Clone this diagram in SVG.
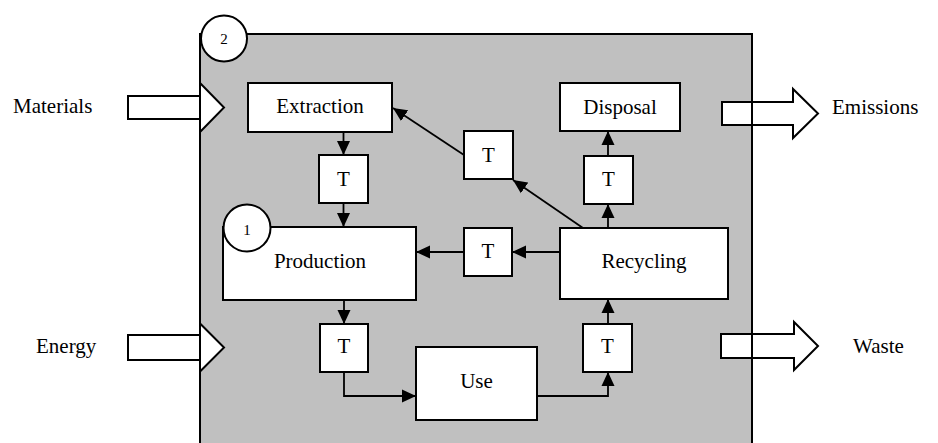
<svg xmlns="http://www.w3.org/2000/svg" width="938" height="443" viewBox="0 0 938 443" font-family="'Liberation Serif', 'DejaVu Serif', serif">
<defs>
<marker id="ah" markerUnits="userSpaceOnUse" markerWidth="14" markerHeight="14" refX="14" refY="7" orient="auto">
<path d="M0,0.5 L14,7 L0,13.5 z" fill="#000"/>
</marker>
<style>
text{font-family:'Liberation Serif','DejaVu Serif','Times New Roman',serif;font-size:21px;fill:#000;text-anchor:middle}
.lbl{text-anchor:start}
.small{font-size:15px}
.box{fill:#fff;stroke:#000;stroke-width:2}
.big{fill:#fff;stroke:#000;stroke-width:2;stroke-linejoin:miter}
.con{fill:none;stroke:#000;stroke-width:1.8;marker-end:url(#ah)}
</style>
</defs>
<rect width="938" height="443" fill="#fff"/>
<g id="system">
<rect x="200" y="34" width="552" height="420" fill="#c0c0c0"/>
</g>
<g id="materials">
<polygon class="big" points="128,96 200,96 200,83 224,107.5 200,132 200,119 128,119"/>
<text class="lbl" x="13" y="113">Materials</text>
</g>
<g id="energy">
<polygon class="big" points="128,335 200,335 200,323.5 224,347.5 200,371.5 200,360 128,360"/>
<text class="lbl" x="36" y="353">Energy</text>
</g>
<g id="emissions">
<polygon class="big" points="722,102 793,102 793,89 818,113.5 793,138 793,125 722,125"/>
<text class="lbl" x="832" y="114">Emissions</text>
</g>
<g id="waste">
<polygon class="big" points="721,334 794,334 794,322 818,346 794,370 794,358 721,358"/>
<text class="lbl" x="853" y="353">Waste</text>
</g>
<g id="system-border">
<rect x="200" y="34" width="552" height="420" fill="none" stroke="#000" stroke-width="2"/>
<circle cx="224" cy="38.5" r="23" fill="#fff" stroke="#000" stroke-width="2"/>
<text class="small" x="224" y="44">2</text>
</g>
<g id="connectors">
<line class="con" x1="343.5" y1="133" x2="343.5" y2="155"/>
<line class="con" x1="343.5" y1="203" x2="343.5" y2="227"/>
<line class="con" x1="344" y1="300" x2="344" y2="324"/>
<path class="con" d="M344,372 V396 H416"/>
<path class="con" d="M537,396 H608 V372"/>
<line class="con" x1="608" y1="324" x2="608" y2="299"/>
<line class="con" x1="560" y1="252" x2="512" y2="252"/>
<line class="con" x1="464" y1="252" x2="416" y2="252"/>
<line class="con" x1="583" y1="228" x2="513" y2="180"/>
<line class="con" x1="464" y1="155" x2="393" y2="108"/>
<line class="con" x1="608" y1="228" x2="608" y2="204"/>
<line class="con" x1="608" y1="156" x2="608" y2="131"/>
</g>
<g id="extraction">
<rect class="box" x="248" y="83" width="144" height="49"/>
<text x="320" y="113">Extraction</text>
</g>
<g id="disposal">
<rect class="box" x="560" y="83" width="120" height="48"/>
<text x="620" y="114">Disposal</text>
</g>
<g id="t-extraction-production">
<rect class="box" x="319" y="155" width="49" height="48"/>
<text x="343.5" y="186">T</text>
</g>
<g id="t-recycling-extraction">
<rect class="box" x="464" y="131" width="49" height="48"/>
<text x="488.5" y="162">T</text>
</g>
<g id="t-recycling-disposal">
<rect class="box" x="584" y="156" width="49" height="48"/>
<text x="608.5" y="186">T</text>
</g>
<g id="production">
<rect class="box" x="223" y="227" width="193" height="73"/>
<circle cx="247" cy="228" r="23.5" fill="#fff" stroke="#000" stroke-width="2"/>
<text class="small" x="247" y="235">1</text>
<text x="320" y="268">Production</text>
</g>
<g id="t-recycling-production">
<rect class="box" x="464" y="228" width="48" height="48"/>
<text x="488" y="258">T</text>
</g>
<g id="recycling">
<rect class="box" x="560" y="228" width="168" height="71"/>
<text x="644" y="268">Recycling</text>
</g>
<g id="t-production-use">
<rect class="box" x="320" y="324" width="48" height="48"/>
<text x="344" y="353">T</text>
</g>
<g id="use">
<rect class="box" x="416" y="347" width="121" height="73"/>
<text x="476.5" y="388">Use</text>
</g>
<g id="t-use-recycling">
<rect class="box" x="583" y="324" width="49" height="48"/>
<text x="607.5" y="353">T</text>
</g>
</svg>
